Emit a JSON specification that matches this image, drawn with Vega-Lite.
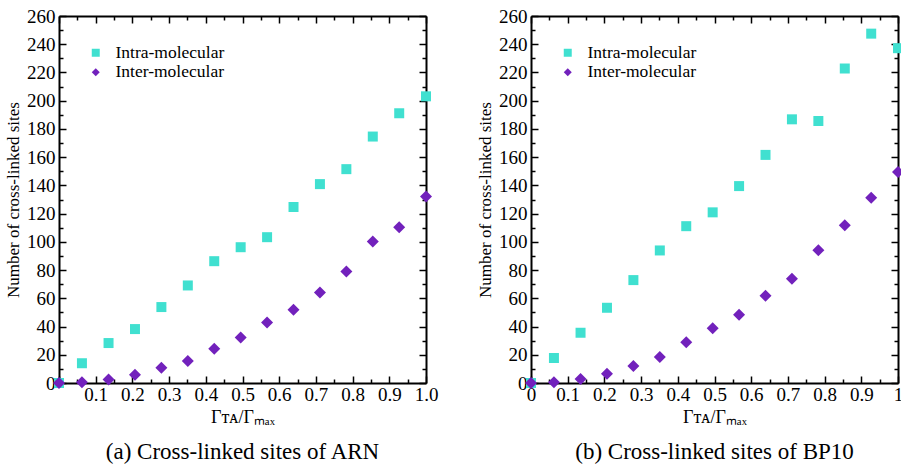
{
  "$schema": "https://vega.github.io/schema/vega-lite/v6.json",
  "background": "white",
  "padding": {"left": 4, "top": 7, "right": 5, "bottom": 5},
  "config": {
    "font": "Liberation Serif",
    "view": {"stroke": null},
    "axis": {"grid": false, "domainColor": "black", "domainWidth": 2, "tickColor": "black", "tickWidth": 1.5, "labelColor": "black", "titleColor": "black", "labelFont": "Liberation Serif", "titleFont": "Liberation Serif", "labelFontSize": 19, "titleFontWeight": "normal", "labelOverlap": false, "labelFlush": false, "labelBound": false},
    "legend": {"labelFont": "Liberation Serif", "labelFontSize": 17.5, "labelColor": "black", "symbolSize": 64, "rowPadding": 0.5, "labelOffset": 11, "title": null},
    "title": {"font": "Liberation Serif", "color": "black", "fontWeight": "normal"}
  },
  "datasets": {
    "arn": [
      {"x": 0, "y": 0, "series": "Intra-molecular"},
      {"x": 0.0625, "y": 14, "series": "Intra-molecular"},
      {"x": 0.135, "y": 28.3, "series": "Intra-molecular"},
      {"x": 0.207, "y": 38.2, "series": "Intra-molecular"},
      {"x": 0.279, "y": 53.8, "series": "Intra-molecular"},
      {"x": 0.351, "y": 69.1, "series": "Intra-molecular"},
      {"x": 0.423, "y": 86.3, "series": "Intra-molecular"},
      {"x": 0.495, "y": 96.2, "series": "Intra-molecular"},
      {"x": 0.567, "y": 103.3, "series": "Intra-molecular"},
      {"x": 0.639, "y": 124.7, "series": "Intra-molecular"},
      {"x": 0.711, "y": 140.9, "series": "Intra-molecular"},
      {"x": 0.783, "y": 151.5, "series": "Intra-molecular"},
      {"x": 0.855, "y": 174.6, "series": "Intra-molecular"},
      {"x": 0.927, "y": 191.1, "series": "Intra-molecular"},
      {"x": 1.0, "y": 203.1, "series": "Intra-molecular"},
      {"x": 0, "y": 0, "series": "Inter-molecular"},
      {"x": 0.0625, "y": 0.5, "series": "Inter-molecular"},
      {"x": 0.135, "y": 2.4, "series": "Inter-molecular"},
      {"x": 0.207, "y": 5.9, "series": "Inter-molecular"},
      {"x": 0.279, "y": 10.8, "series": "Inter-molecular"},
      {"x": 0.351, "y": 15.6, "series": "Inter-molecular"},
      {"x": 0.423, "y": 24.3, "series": "Inter-molecular"},
      {"x": 0.495, "y": 32.3, "series": "Inter-molecular"},
      {"x": 0.567, "y": 42.9, "series": "Inter-molecular"},
      {"x": 0.639, "y": 51.9, "series": "Inter-molecular"},
      {"x": 0.711, "y": 64.2, "series": "Inter-molecular"},
      {"x": 0.783, "y": 79.0, "series": "Inter-molecular"},
      {"x": 0.855, "y": 100.2, "series": "Inter-molecular"},
      {"x": 0.927, "y": 110.4, "series": "Inter-molecular"},
      {"x": 1.0, "y": 132.2, "series": "Inter-molecular"}
    ],
    "bp10": [
      {"x": 0, "y": 0, "series": "Intra-molecular"},
      {"x": 0.0625, "y": 17.7, "series": "Intra-molecular"},
      {"x": 0.135, "y": 35.6, "series": "Intra-molecular"},
      {"x": 0.207, "y": 53.3, "series": "Intra-molecular"},
      {"x": 0.279, "y": 72.9, "series": "Intra-molecular"},
      {"x": 0.351, "y": 93.9, "series": "Intra-molecular"},
      {"x": 0.423, "y": 111.1, "series": "Intra-molecular"},
      {"x": 0.495, "y": 120.9, "series": "Intra-molecular"},
      {"x": 0.567, "y": 139.5, "series": "Intra-molecular"},
      {"x": 0.639, "y": 161.6, "series": "Intra-molecular"},
      {"x": 0.711, "y": 186.8, "series": "Intra-molecular"},
      {"x": 0.783, "y": 185.6, "series": "Intra-molecular"},
      {"x": 0.855, "y": 222.8, "series": "Intra-molecular"},
      {"x": 0.927, "y": 247.5, "series": "Intra-molecular"},
      {"x": 1.0, "y": 237.2, "series": "Intra-molecular"},
      {"x": 0, "y": 0, "series": "Inter-molecular"},
      {"x": 0.0625, "y": 0.5, "series": "Inter-molecular"},
      {"x": 0.135, "y": 2.8, "series": "Inter-molecular"},
      {"x": 0.207, "y": 6.6, "series": "Inter-molecular"},
      {"x": 0.279, "y": 12.0, "series": "Inter-molecular"},
      {"x": 0.351, "y": 18.4, "series": "Inter-molecular"},
      {"x": 0.423, "y": 28.8, "series": "Inter-molecular"},
      {"x": 0.495, "y": 38.7, "series": "Inter-molecular"},
      {"x": 0.567, "y": 48.3, "series": "Inter-molecular"},
      {"x": 0.639, "y": 61.8, "series": "Inter-molecular"},
      {"x": 0.711, "y": 73.8, "series": "Inter-molecular"},
      {"x": 0.783, "y": 94.1, "series": "Inter-molecular"},
      {"x": 0.855, "y": 111.8, "series": "Inter-molecular"},
      {"x": 0.927, "y": 131.3, "series": "Inter-molecular"},
      {"x": 1.0, "y": 149.4, "series": "Inter-molecular"}
    ]
  },
  "hconcat": [
    {
      "width": 367,
      "height": 367,
      "data": {"name": "arn"},
      "title": {"text": "(a)  Cross-linked sites of ARN", "orient": "bottom", "anchor": "middle", "frame": "group", "fontSize": 23, "offset": 15},
      "layer": [
        {
          "transform": [{"filter": "datum.series == 'Intra-molecular'"}],
          "mark": {"type": "point", "filled": true, "size": 100, "opacity": 1},
          "encoding": {
            "x": {"field": "x", "type": "quantitative", "scale": {"domain": [0, 1], "nice": false, "zero": false},
              "axis": {"orient": "bottom", "values": [0,0.05,0.1,0.15,0.2,0.25,0.3,0.35,0.4,0.45,0.5,0.55,0.6,0.65,0.7,0.75,0.8,0.85,0.9,0.95,1],
                "labelExpr": "(round(datum.value*20)%2==0 && datum.value>0) ? format(datum.value,'.1f') : ''",
                "tickSize": {"condition": {"test": "round(datum.value*20)%2==0", "value": -7}, "value": -4},
                "labelPadding": 9, "title": "Γᴛᴀ/Γₘₐₓ", "titleFontSize": 18, "titlePadding": 1}},
            "y": {"field": "y", "type": "quantitative", "scale": {"domain": [0, 260], "nice": false},
              "axis": {"orient": "left", "values": [0,10,20,30,40,50,60,70,80,90,100,110,120,130,140,150,160,170,180,190,200,210,220,230,240,250,260],
                "labelExpr": "datum.value%20==0 ? datum.label : ''",
                "tickSize": {"condition": {"test": "datum.value%20==0", "value": -7}, "value": -4},
                "labelPadding": 11, "title": "Number of cross-linked sites", "titleFontSize": 17, "titlePadding": 4}},
            "color": {"field": "series", "type": "nominal", "scale": {"domain": ["Intra-molecular", "Inter-molecular"], "range": ["#40E0D0", "#7221BC"]},
              "legend": {"orient": "none", "legendX": 28, "legendY": 28, "title": null}},
            "shape": {"field": "series", "type": "nominal", "scale": {"domain": ["Intra-molecular", "Inter-molecular"], "range": ["square", "diamond"]}}
          }
        },
        {
          "transform": [{"filter": "datum.series == 'Inter-molecular'"}],
          "mark": {"type": "point", "filled": true, "size": 144, "opacity": 1},
          "encoding": {
            "x": {"field": "x", "type": "quantitative",
              "axis": {"orient": "top", "values": [0,0.05,0.1,0.15,0.2,0.25,0.3,0.35,0.4,0.45,0.5,0.55,0.6,0.65,0.7,0.75,0.8,0.85,0.9,0.95,1],
                "labels": false, "title": null,
                "tickSize": {"condition": {"test": "round(datum.value*20)%2==0", "value": -7}, "value": -4}}},
            "y": {"field": "y", "type": "quantitative",
              "axis": {"orient": "right", "values": [0,10,20,30,40,50,60,70,80,90,100,110,120,130,140,150,160,170,180,190,200,210,220,230,240,250,260],
                "labels": false, "title": null,
                "tickSize": {"condition": {"test": "datum.value%20==0", "value": -7}, "value": -4}}},
            "color": {"field": "series", "type": "nominal"},
            "shape": {"field": "series", "type": "nominal"}
          }
        }
      ],
      "resolve": {"axis": {"x": "independent", "y": "independent"}}
    },
    {
      "width": 367,
      "height": 367,
      "data": {"name": "bp10"},
      "title": {"text": "(b)  Cross-linked sites of BP10", "orient": "bottom", "anchor": "middle", "frame": "group", "fontSize": 23, "offset": 15},
      "layer": [
        {
          "transform": [{"filter": "datum.series == 'Intra-molecular'"}],
          "mark": {"type": "point", "filled": true, "size": 100, "opacity": 1},
          "encoding": {
            "x": {"field": "x", "type": "quantitative", "scale": {"domain": [0, 1], "nice": false, "zero": false},
              "axis": {"orient": "bottom", "values": [0,0.05,0.1,0.15,0.2,0.25,0.3,0.35,0.4,0.45,0.5,0.55,0.6,0.65,0.7,0.75,0.8,0.85,0.9,0.95,1],
                "labelExpr": "round(datum.value*20)%2!=0 ? '' : datum.value==0 ? '0' : datum.value==1 ? '1' : format(datum.value,'.1f')",
                "tickSize": {"condition": {"test": "round(datum.value*20)%2==0", "value": -7}, "value": -4},
                "labelPadding": 9, "title": "Γᴛᴀ/Γₘₐₓ", "titleFontSize": 18, "titlePadding": 1}},
            "y": {"field": "y", "type": "quantitative", "scale": {"domain": [0, 260], "nice": false},
              "axis": {"orient": "left", "values": [0,10,20,30,40,50,60,70,80,90,100,110,120,130,140,150,160,170,180,190,200,210,220,230,240,250,260],
                "labelExpr": "datum.value%20==0 ? datum.label : ''",
                "tickSize": {"condition": {"test": "datum.value%20==0", "value": -7}, "value": -4},
                "labelPadding": 11, "title": "Number of cross-linked sites", "titleFontSize": 17, "titlePadding": 4}},
            "color": {"field": "series", "type": "nominal", "scale": {"domain": ["Intra-molecular", "Inter-molecular"], "range": ["#40E0D0", "#7221BC"]},
              "legend": {"orient": "none", "legendX": 28, "legendY": 28, "title": null}},
            "shape": {"field": "series", "type": "nominal", "scale": {"domain": ["Intra-molecular", "Inter-molecular"], "range": ["square", "diamond"]}}
          }
        },
        {
          "transform": [{"filter": "datum.series == 'Inter-molecular'"}],
          "mark": {"type": "point", "filled": true, "size": 144, "opacity": 1},
          "encoding": {
            "x": {"field": "x", "type": "quantitative",
              "axis": {"orient": "top", "values": [0,0.05,0.1,0.15,0.2,0.25,0.3,0.35,0.4,0.45,0.5,0.55,0.6,0.65,0.7,0.75,0.8,0.85,0.9,0.95,1],
                "labels": false, "title": null,
                "tickSize": {"condition": {"test": "round(datum.value*20)%2==0", "value": -7}, "value": -4}}},
            "y": {"field": "y", "type": "quantitative",
              "axis": {"orient": "right", "values": [0,10,20,30,40,50,60,70,80,90,100,110,120,130,140,150,160,170,180,190,200,210,220,230,240,250,260],
                "labels": false, "title": null,
                "tickSize": {"condition": {"test": "datum.value%20==0", "value": -7}, "value": -4}}},
            "color": {"field": "series", "type": "nominal"},
            "shape": {"field": "series", "type": "nominal"}
          }
        }
      ],
      "resolve": {"axis": {"x": "independent", "y": "independent"}}
    }
  ],
  "spacing": 38,
  "resolve": {"legend": {"color": "independent", "shape": "independent"}, "scale": {"color": "independent", "shape": "independent"}}
}
